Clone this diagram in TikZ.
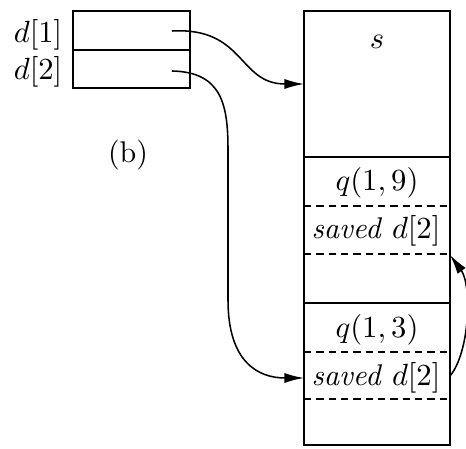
\documentclass[tikz,border=0pt]{standalone}
\usetikzlibrary{arrows.meta}
\begin{document}
\begin{tikzpicture}[x=0.357pt,y=-0.357pt,
  box/.style={draw, line width=0.65pt},
  sep/.style={draw, line width=0.6pt, dash pattern=on 2.6pt off 1.8pt},
  link/.style={draw, line width=0.55pt, -{Latex[length=7pt,width=3.6pt]}},
  lbl/.style={inner sep=0pt, font=\fontsize{10.7pt}{12pt}\selectfont}]
\useasboundingbox (0,0) rectangle (466,449);
% left box
\draw[box] (73,11) rectangle (190,88);
\draw[box] (73,50) -- (190,50);
\node[lbl] (d1) at (38,35) {$d[1]$};
\node[lbl] (d2) at (38,72) {$d[2]$};
\node[lbl] (b) at (128,155) {(b)};
\coordinate (p1) at (172,31);
\coordinate (p2) at (172,71);
% right stack
\draw[box] (304,11) rectangle (450,445);
\draw[box] (304,157) -- (450,157);
\draw[box] (304,303) -- (450,303);
\draw[sep] (304,206) -- (450,206);
\draw[sep] (304,254) -- (450,254);
\draw[sep] (304,352) -- (450,352);
\draw[sep] (304,399) -- (450,399);
\node[lbl] (s) at (377,42) {$s$};
\node[lbl] (q19) at (377,183) {$q(1,9)$};
\node[lbl] (sv1) at (376,231) {\textit{saved} $d[2]$};
\node[lbl] (q13) at (377,330) {$q(1,3)$};
\node[lbl] (sv2) at (376,378) {\textit{saved} $d[2]$};
\coordinate (t1) at (304,84);
\coordinate (t2) at (304,378);
\coordinate (r2) at (450,376);
\coordinate (r1) at (450,255);
% connectors
\draw[link] (p1) .. controls (245,27) and (238,84) .. (t1);
\draw[link] (p2) .. controls (222,72) and (228,105) .. (228,150) -- (228,300) .. controls (228,362) and (258,378) .. (t2);
\draw[link] (r2) .. controls (470,352) and (472,285) .. (r1);
\end{tikzpicture}
\end{document}
